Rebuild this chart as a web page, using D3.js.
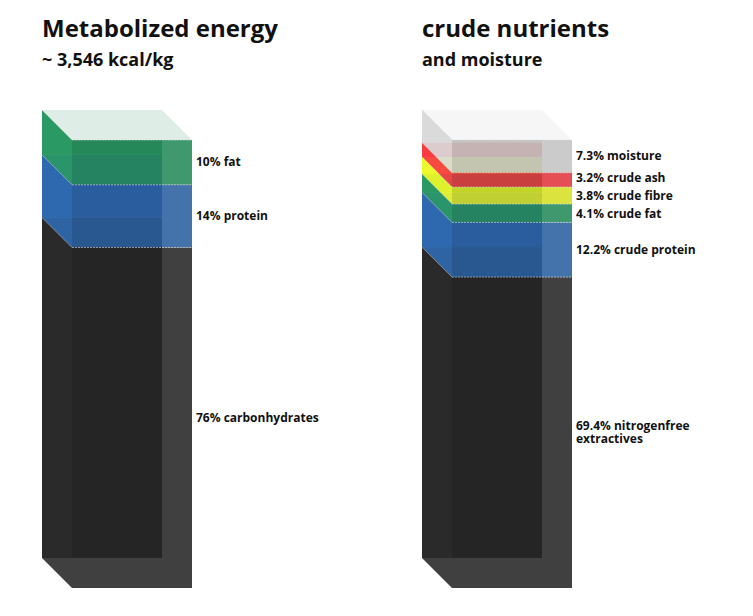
<!DOCTYPE html>
<html><head><meta charset="utf-8">
<script src="https://cdn.jsdelivr.net/npm/d3@7"></script>
<style>body{margin:0;background:#fff;font-family:"Open Sans",sans-serif}</style>
</head><body>
<script>
// data, top to bottom
var energyLabels = ['10% fat', '14% protein', '76% carbonhydrates'];
var energyValues = [10, 14, 76];
var energyColors = ['#268a5a', '#2a5f9e', '#262626'];

var nutrientLabels = ['7.3% moisture', '3.2% crude ash', '3.8% crude fibre', '4.1% crude fat', '12.2% crude protein', '69.4% nitrogenfree\nextractives'];
var nutrientValues = [7.3, 3.2, 3.8, 4.1, 12.2, 69.4];
var nutrientColors = ['#c4c4c4', '#e0363c', '#d6e024', '#268a5a', '#2a5f9e', '#262626'];

var W = 753, H = 616, depth = 30, bw = 120, barTop = 140, barBottom = 588;

var svg = d3.select('body').append('svg').attr('width', W).attr('height', H);

function stack(g, x0, labels, values, colors) {
  var total = d3.sum(values);
  var y = d3.scaleLinear().domain([0, total]).range([barTop, barBottom]);
  var segs = [], acc = 0;
  values.forEach(function (v, i) {
    segs.push({ y0: y(acc), y1: y(acc + v), c: colors[i], label: labels[i] });
    acc += v;
  });
  // back faces
  segs.forEach(function (s) {
    g.append('rect').attr('x', x0 - depth).attr('y', s.y0 - depth)
      .attr('width', bw).attr('height', s.y1 - s.y0)
      .attr('fill', d3.color(s.c).darker(0.25));
  });
  // left sides
  segs.forEach(function (s) {
    g.append('path')
      .attr('d', 'M' + x0 + ',' + s.y0 + 'L' + (x0 - depth) + ',' + (s.y0 - depth) +
        'L' + (x0 - depth) + ',' + (s.y1 - depth) + 'L' + x0 + ',' + s.y1 + 'Z')
      .attr('fill', d3.color(s.c).brighter(0.35)).attr('opacity', 0.9);
  });
  // top face
  var tc = d3.color(segs[0].c);
  g.append('path')
    .attr('d', 'M' + x0 + ',' + barTop + 'L' + (x0 - depth) + ',' + (barTop - depth) +
      'L' + (x0 - depth + bw) + ',' + (barTop - depth) + 'L' + (x0 + bw) + ',' + barTop + 'Z')
    .attr('fill', d3.interpolateRgb(tc, '#fff')(0.85));
  // front faces
  segs.forEach(function (s) {
    g.append('rect').attr('x', x0).attr('y', s.y0).attr('width', bw).attr('height', s.y1 - s.y0)
      .attr('fill', s.c).attr('opacity', 0.88);
    g.append('line').attr('x1', x0).attr('x2', x0 + bw).attr('y1', s.y0).attr('y2', s.y0)
      .attr('stroke', '#ddd').attr('stroke-width', 0.6).attr('stroke-dasharray', '2,1');
    g.append('line').attr('x1', x0).attr('x2', x0 - depth).attr('y1', s.y0).attr('y2', s.y0 - depth)
      .attr('stroke', '#ddd').attr('stroke-width', 0.5);
  });
  // labels, spread so they don't collide
  var ly = segs.map(function (s) { return (s.y0 + s.y1) / 2; });
  for (var k = 0; k < 30; k++) {
    for (var i = 1; i < ly.length; i++) {
      var d = ly[i] - ly[i - 1];
      if (d < 18) { ly[i - 1] -= (18 - d) / 2; ly[i] += (18 - d) / 2; }
    }
  }
  segs.forEach(function (s, i) {
    var lines = s.label.split('\n');
    var t = g.append('text').attr('x', x0 + bw + 4).attr('y', ly[i] + 4 - (lines.length - 1) * 7)
      .attr('font-size', 12).attr('font-weight', 'bold').attr('fill', '#111');
    lines.forEach(function (l, j) {
      t.append('tspan').attr('x', x0 + bw + 4).attr('dy', j ? 13 : 0).text(l);
    });
  });
}

function title(x, a, b) {
  svg.append('text').attr('x', x).attr('y', 37).attr('font-size', 24).attr('font-weight', 'bold').attr('fill', '#111').text(a);
  svg.append('text').attr('x', x).attr('y', 66).attr('font-size', 18).attr('font-weight', 'bold').attr('fill', '#111').text(b);
}

title(42, 'Metabolized energy', '~ 3,546 kcal/kg');
title(422, 'crude nutrients', 'and moisture');
stack(svg.append('g'), 72, energyLabels, energyValues, energyColors);
stack(svg.append('g'), 452, nutrientLabels, nutrientValues, nutrientColors);
</script>
</body></html>
